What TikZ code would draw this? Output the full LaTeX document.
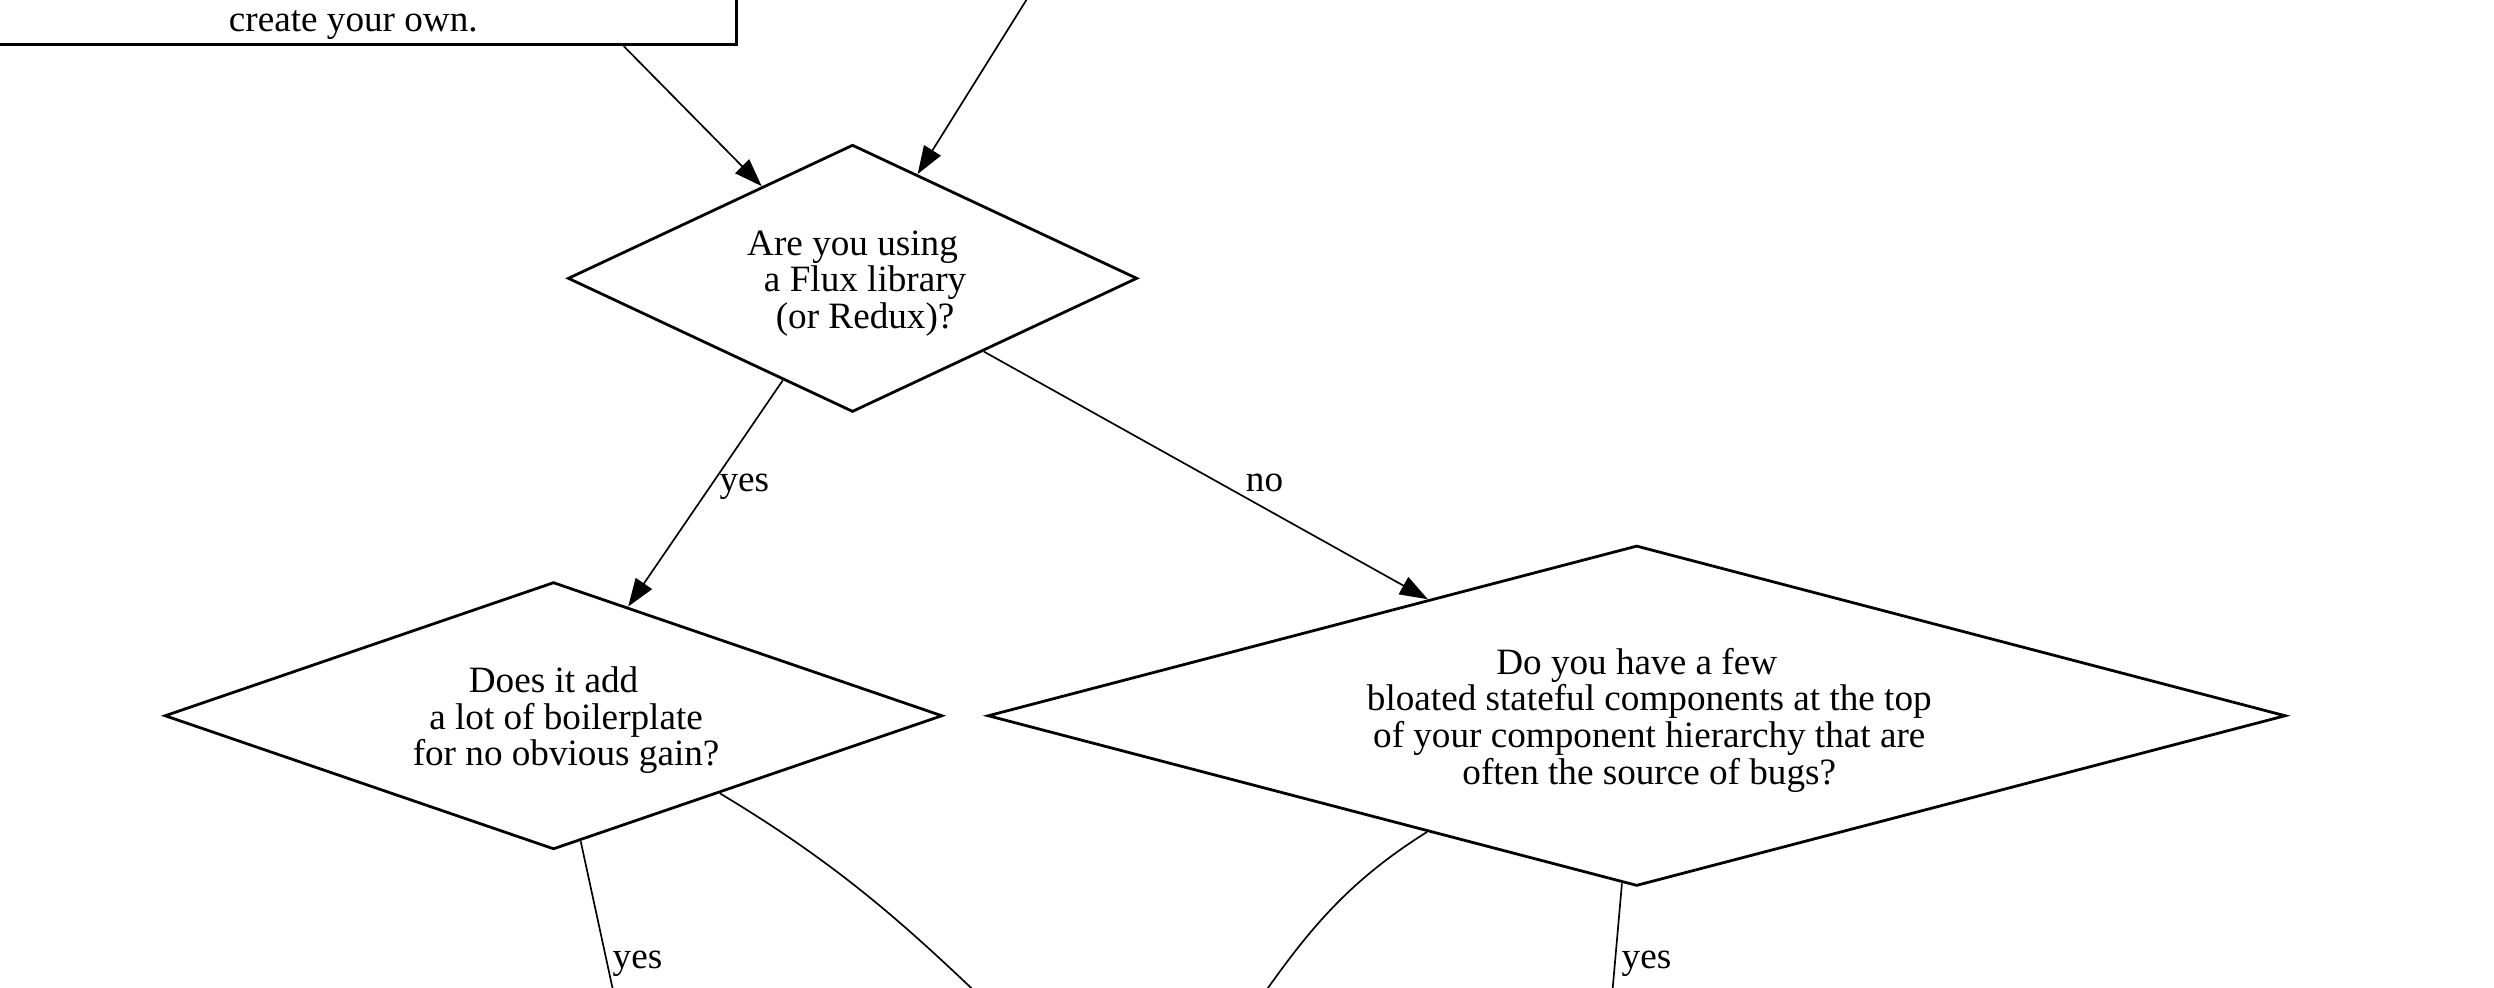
\documentclass[tikz,border=0pt]{standalone}
\usepackage{fontspec}
\setmainfont{Liberation Serif}
\usetikzlibrary{shapes.geometric,arrows.meta}

\begin{document}
\begin{tikzpicture}
  \tikzstyle{decision}=[diamond,draw,line width=1pt,inner sep=0pt,align=center,font=\fontsize{13.3}{13.1}\selectfont]
  \tikzstyle{box}=[rectangle,draw,line width=1pt,inner sep=0pt,font=\fontsize{13.3}{13.1}\selectfont]
  \tikzstyle{lbl}=[inner sep=2pt,yshift=-1.7pt,font=\fontsize{13.3}{13.1}\selectfont]
  \tikzstyle{line}=[draw,line width=0.6pt,-{Triangle[length=10pt,width=7pt]}]
  \tikzstyle{stub}=[draw,line width=0.6pt]
  \useasboundingbox (0,0) rectangle (31.36,12.42);
  \clip (0,0) rectangle (31.36,12.42);
  \node[box,anchor=south east,minimum width=9.64cm,text height=1.6cm,text depth=4.9pt] (custom) at (9.28,11.84) {create your own.};
  \node[decision,minimum width=7.16cm,minimum height=3.36cm,shape aspect=2.13] (flux) at (10.72,8.92)
    {\rule{0pt}{12.5pt}Are you using\\\hspace*{9pt}a Flux library\\\hspace*{9pt}(or Redux)?};
  \node[decision,minimum width=9.78cm,minimum height=3.36cm,shape aspect=2.91] (boiler) at (6.96,3.42)
    {\rule{0pt}{12.5pt}Does it add\\\hspace*{9pt}a lot of boilerplate\\\hspace*{9pt}for no obvious gain?};
  \node[decision,minimum width=16.32cm,minimum height=4.28cm,shape aspect=3.81] (bloated) at (20.58,3.42)
    {\rule{0pt}{12.5pt}Do you have a few\\\hspace*{9pt}bloated stateful components at the top\\\hspace*{9pt}of your component hierarchy that are\\\hspace*{9pt}often the source of bugs?};
  % loose ends
  \coordinate (fromabove) at (13.28,13.02);
  \coordinate (yesboiler) at (7.87,-0.78);
  \coordinate (noboiler) at (13.02,-0.78);
  \coordinate (nobloated) at (15.4,-0.78);
  \coordinate (yesbloated) at (20.21,-0.78);
  % edges
  \draw[line] ([xshift=3.4cm]custom.south) -- (flux);
  \draw[line] (fromabove) -- (flux);
  \draw[line] (flux) -- node[lbl,pos=0.45,right] {yes} (boiler);
  \draw[line] (flux) -- node[lbl,pos=0.513,right=10pt] {no} (bloated);
  \draw[stub] (boiler) -- node[lbl,pos=0.565,right] {yes} (yesboiler);
  \draw[stub] (boiler.-25) to[out=-31,in=136] (noboiler);
  \draw[stub] (bloated.209.6) to[out=212,in=55] (nobloated);
  \draw[stub] (bloated) -- node[lbl,pos=0.455,right] {yes} (yesbloated);
\end{tikzpicture}
\end{document}
